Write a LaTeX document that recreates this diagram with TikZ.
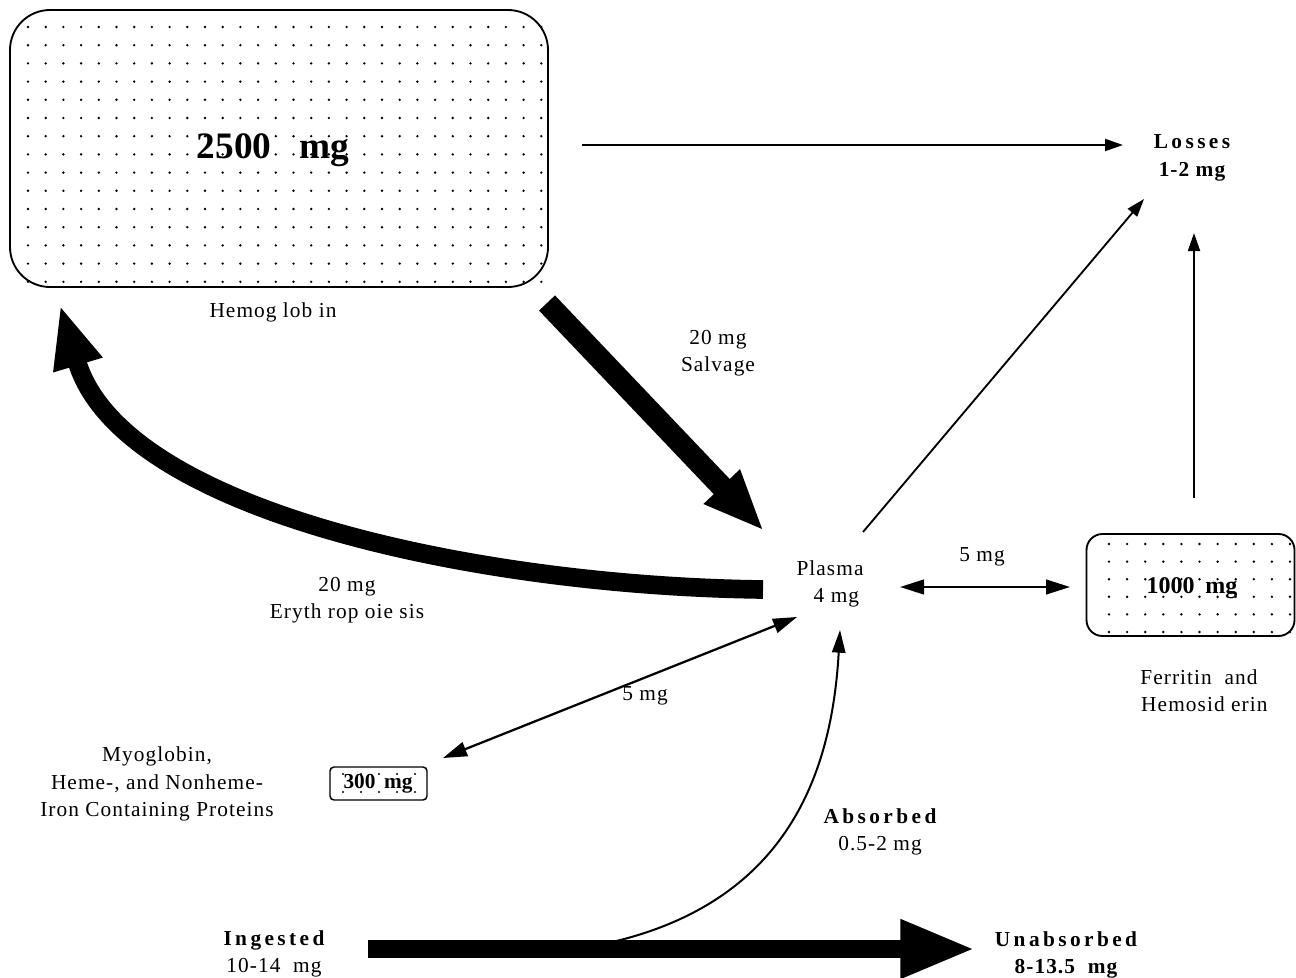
\documentclass[tikz,border=0pt]{standalone}
\usepackage{fontspec}
\setmainfont{Liberation Serif}
\newfontfamily\labfont[LetterSpace=5]{Liberation Serif}
\newfontfamily\headfont[LetterSpace=16]{Liberation Serif}
\usetikzlibrary{arrows.meta}
\begin{document}
\begin{tikzpicture}[x=0.75pt,y=-0.75pt,
  txt/.style={font=\labfont\fontsize{16}{20.5}\selectfont, align=center, inner sep=0pt},
  boxline/.style={draw, line width=1.4pt},
  thinarrow/.style={line width=1.4pt, -{Triangle[length=13.5pt,width=9pt]}},
  dblarrow/.style={line width=1.7pt, {Triangle[length=18pt,width=11pt]}-{Triangle[length=18pt,width=11pt]}},
  fatarrow/.style={line width=#1},
  dotfill/.style={fill=black}
]
\useasboundingbox (0,0) rectangle (1296,978);

% ---------- dots ----------
\foreach \i in {0,...,29}{\foreach \j in {0,...,14}{
  \fill[dotfill] (28+\i*17.7, 27+\j*18.2) circle (1pt);}}
\foreach \i in {0,...,10}{\foreach \j in {0,...,5}{
  \fill[dotfill] (1109+\i*18.1, 544+\j*17.6) circle (1pt);}}
\foreach \i in {0,...,4}{\foreach \j in {0,1}{
  \fill[dotfill] (343+\i*18, 774+\j*18) circle (0.8pt);}}

% ---------- boxes ----------
\node[boxline, rounded corners=30pt, minimum width=403.5pt, minimum height=207.75pt] (hb) at (279,148.5) {};
\node[font=\fontsize{28}{30}\selectfont\bfseries, inner sep=0pt] (hbt) at (273,150) {2500\hspace{0.75em}mg};
\node[boxline, rounded corners=12pt, minimum width=156pt, minimum height=76.5pt] (fe) at (1190.5,585) {};
\node[font=\fontsize{18}{20}\selectfont\bfseries, inner sep=0pt] (fet) at (1192,588) {1000\hspace{0.45em}mg};
\node[draw, line width=1.1pt, rounded corners=3pt, minimum width=72.75pt, minimum height=24.75pt] (my) at (378.5,783.5) {};
\node[font=\fontsize{16}{18}\selectfont\bfseries, inner sep=0pt] (myt) at (378,784) {300\hspace{0.4em}mg};

% ---------- labels ----------
\node[txt] (hbl) at (273,312) {Hemog lob in};
\node[txt] (loss) at (1192,158) {{\headfont\bfseries Losses}\\{\bfseries 1-2 mg}};
\node[txt] (plasma) at (830,584) {Plasma\\\hspace{0.6em}4 mg};
\node[txt] (sal) at (718,353) {20 mg\\Salvage};
\node[txt] (ery) at (347,600) {20 mg\\Eryth rop oie sis};
\node[txt] (pf) at (982,557) {5 mg};
\node[txt] (pm) at (645,696) {5 mg};
\node[txt] (fel) at (1199,691) {Ferritin\ \ and\\\hspace{0.5em}Hemosid erin};
\node[txt] (myl) at (157,784) {Myoglobin,\\Heme-, and Nonheme-\\Iron Containing Proteins};
\node[txt] (abs) at (880,832) {{\headfont\bfseries Absorbed}\\0.5-2 mg};
\node[txt] (ing) at (274,954) {{\headfont\bfseries Ingested}\\10-14\ \ mg};
\node[txt] (unab) at (1066,955) {{\headfont\bfseries Unabsorbed}\\{\bfseries 8-13.5\ \ mg}};

% ---------- connector end points ----------
\coordinate (hbE) at (582,145);
\coordinate (lossW) at (1123,145);
\coordinate (plNE) at (863,532);
\coordinate (lossSW) at (1144,199);
\coordinate (feN) at (1194,498);
\coordinate (lossS) at (1194,233);
\coordinate (plE) at (900,587);
\coordinate (feW) at (1070,587);
\coordinate (plSW) at (797,617);
\coordinate (myNE) at (443,758);
\coordinate (svS) at (547,303);
\coordinate (svE) at (764,531);
\coordinate (erS) at (763,589.5);
\coordinate (erE) at (60,305);
\coordinate (ingE) at (368,949);
\coordinate (unW) at (975,949);
\coordinate (absS) at (608,943);
\coordinate (plS) at (840,630);

% ---------- connectors ----------
\draw[thinarrow] (hbE) -- (lossW);
\draw[thinarrow] (plNE) -- (lossSW);
\draw[thinarrow] (feN) -- (lossS);
\draw[dblarrow] (plE) -- (feW);
\draw[dblarrow] (plSW) -- (myNE);
\draw[fatarrow=16.5pt, -{Triangle[length=46pt,width=34pt]}] (svS) -- (svE);
\draw[fatarrow=14pt, -{Triangle[length=47pt,width=35pt]}] (erS) .. controls (480,586) and (122,512) .. (erE);
\draw[fatarrow=13pt, -{Triangle[length=56pt,width=41pt]}] (ingE) -- (unW);
\draw[line width=1.5pt, -{Triangle[length=17pt,width=10pt]}] (absS) .. controls (790,902) and (832,770) .. (plS);
\end{tikzpicture}
\end{document}
